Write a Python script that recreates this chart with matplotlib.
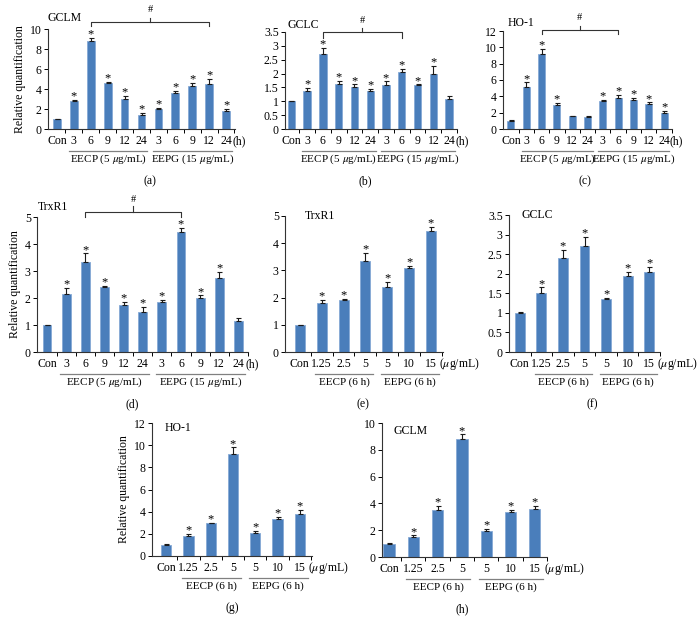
import numpy as np
import matplotlib
matplotlib.use('Agg')
import matplotlib.pyplot as plt
from matplotlib import transforms

plt.rcParams['font.family'] = ['Liberation Serif', 'DejaVu Serif']
plt.rcParams['font.size'] = 8.5
plt.rcParams['mathtext.fontset'] = 'stix'

# categories
time_labels = ['Con', '3', '6', '9', '12', '24', '3', '6', '9', '12', '24']
dose_labels = ['Con', '1.25', '2.5', '5', '5', '10', '15']

# (a) GCLM, time course
gclm_t = [1.0, 2.8, 8.8, 4.6, 3.0, 1.4, 2.0, 3.6, 4.3, 4.5, 1.8]
gclm_t_err = [0.03, 0.08, 0.35, 0.1, 0.3, 0.2, 0.12, 0.2, 0.35, 0.5, 0.2]
gclm_t_star = [0, 1, 1, 1, 1, 1, 1, 1, 1, 1, 1]

# (b) GCLC, time course
gclc_t = [1.0, 1.37, 2.72, 1.62, 1.52, 1.37, 1.57, 2.05, 1.58, 1.98, 1.08]
gclc_t_err = [0.01, 0.12, 0.22, 0.13, 0.09, 0.08, 0.15, 0.13, 0.03, 0.3, 0.1]
gclc_t_star = [0, 1, 1, 1, 1, 1, 1, 1, 1, 1, 0]

# (c) HO-1, time course
ho1_t = [1.0, 5.1, 9.2, 3.0, 1.6, 1.5, 3.4, 3.8, 3.6, 3.05, 2.0]
ho1_t_err = [0.05, 0.6, 0.6, 0.2, 0.05, 0.15, 0.2, 0.35, 0.25, 0.2, 0.2]
ho1_t_star = [0, 1, 1, 1, 0, 0, 1, 1, 1, 1, 1]

# (d) TrxR1, time course
trx_t = [1.0, 2.15, 3.35, 2.4, 1.75, 1.48, 1.85, 4.45, 2.0, 2.75, 1.15]
trx_t_err = [0.01, 0.22, 0.3, 0.05, 0.1, 0.2, 0.07, 0.15, 0.1, 0.22, 0.1]
trx_t_star = [0, 1, 1, 1, 1, 1, 1, 1, 1, 1, 0]

# (e) TrxR1, dose
trx_d = [1.0, 1.8, 1.9, 3.35, 2.4, 3.07, 4.45]
trx_d_err = [0.01, 0.12, 0.05, 0.3, 0.18, 0.1, 0.15]

# (f) GCLC, dose
gclc_d = [1.0, 1.5, 2.4, 2.72, 1.35, 1.93, 2.05]
gclc_d_err = [0.01, 0.15, 0.2, 0.22, 0.03, 0.12, 0.13]

# (g) HO-1, dose
ho1_d = [1.0, 1.8, 2.95, 9.2, 2.1, 3.35, 3.8]
ho1_d_err = [0.05, 0.2, 0.05, 0.6, 0.15, 0.2, 0.35]

# (h) GCLM, dose
gclm_d = [1.0, 1.5, 3.5, 8.8, 1.95, 3.35, 3.55]
gclm_d_err = [0.02, 0.12, 0.3, 0.35, 0.15, 0.18, 0.25]

dose_star = [0, 1, 1, 1, 1, 1, 1]

W, H = 700, 619
BAR = '#4a7ebb'
EDGE = '#86a9d6'

fig = plt.figure(figsize=(W / 100, H / 100), dpi=100)


def panel(box, labels, vals, errs, stars, ymax, ystep, gene, gene_xy, letter, letter_x,
          groups, unit, lpad=0.5, rpad=0.5, ylabel=False, bracket=None):
    left, right, top, bottom = box
    ax = fig.add_axes([left / W, 1 - bottom / H, (right - left) / W, (bottom - top) / H])
    n = len(vals)
    x = np.arange(n)
    ax.bar(x, vals, width=0.46, color=BAR, edgecolor=EDGE, linewidth=0.6, zorder=2)
    ax.errorbar(x, vals, yerr=[np.zeros(n), errs], fmt='none', ecolor='#1a1a1a',
                elinewidth=0.8, capsize=1.8, capthick=0.8, zorder=3)
    for i in range(n):
        if stars[i]:
            ax.annotate('*', xy=(i, vals[i] + errs[i]), xytext=(0, 0.3),
                        textcoords='offset points', ha='center', va='baseline',
                        fontsize=9)
    ax.set_xlim(-lpad, n - 1 + rpad)
    ax.set_ylim(0, ymax)
    yt = np.arange(0, ymax + ystep / 2, ystep)
    ax.set_yticks(yt)
    ax.set_yticklabels(['{:g}'.format(v) for v in yt])
    ax.set_xticks(x)
    ax.set_xticklabels(labels)
    ax.set_xticks(np.arange(n) + 0.5, minor=True)
    ax.tick_params(axis='x', which='major', length=0, pad=4)
    ax.tick_params(axis='x', which='minor', length=3, width=0.7, direction='out')
    ax.tick_params(axis='y', length=3, width=0.7, direction='out', pad=1.5)
    for s in ['top', 'right']:
        ax.spines[s].set_visible(False)
    for s in ['left', 'bottom']:
        ax.spines[s].set_linewidth(0.8)
        ax.spines[s].set_color('#333333')

    trans = transforms.blended_transform_factory(ax.transData, ax.transAxes)
    ax.annotate(unit, xy=(n - 1 + 0.38, 0), xycoords=trans, xytext=(0, -8.8),
                textcoords='offset points', ha='left', va='center')
    shift = transforms.ScaledTranslation(0, -16 / 72, fig.dpi_scale_trans)
    for (i0, i1, name) in groups:
        x0, x1 = i0 - 0.3, i1 + 0.35
        ln = plt.Line2D([x0, x1], [0, 0], color='#808080', lw=0.9, transform=trans + shift)
        ln.set_clip_on(False)
        ax.add_line(ln)
        ax.annotate(name, xy=((x0 + x1) / 2, 0), xycoords=trans, xytext=(0, -22),
                    textcoords='offset points', ha='center', va='center', fontsize=8)
    fig.text(letter_x / W, 1 - (bottom + 52) / H, letter, ha='center', va='center')
    fig.text(gene_xy[0] / W, 1 - gene_xy[1] / H, gene, ha='left', va='center')
    if ylabel:
        ax.set_ylabel('Relative quantification', labelpad=3)
    if bracket is not None:
        i0, i1, yl, ye, yh = bracket
        ax.plot([i0, i0, i1, i1], [ye, yl, yl, ye], color='#333333', lw=0.8,
                transform=trans, clip_on=False)
        mid = (i0 + i1) / 2
        ax.plot([mid, mid], [yl, yl + 0.04], color='#333333', lw=0.8,
                transform=trans, clip_on=False)
        ax.text(mid, yh, '#', transform=trans, ha='center', va='center', fontsize=7.5)
    return ax


grp_t1 = [(1, 5, r'EECP (5 $\mu$g/mL)'), (6, 10, r'EEPG (15 $\mu$g/mL)')]
grp_d = [(1, 3, 'EECP (6 h)'), (4, 6, 'EEPG (6 h)')]
unit_d = r'($\mu$g/mL)'

panel((48, 235, 29, 129), time_labels, gclm_t, gclm_t_err, gclm_t_star, 10, 2,
      'GCLM', (48, 18), '(a)', 150, grp_t1, '(h)', 0.53, 0.53, ylabel=True,
      bracket=(2, 9, 1.07, 1.03, 1.19))
panel((285, 457, 32, 129), time_labels, gclc_t, gclc_t_err, gclc_t_star, 3.5, 0.5,
      'GCLC', (288, 25), '(b)', 365, grp_t1, '(h)', 0.4, 0.5,
      bracket=(2, 7, 1.0, 0.94, 1.12))
panel((503, 672, 31, 129), time_labels, ho1_t, ho1_t_err, ho1_t_star, 12, 2,
      'HO-1', (508, 23), '(c)', 585, grp_t1, '(h)', 0.52, 0.52,
      bracket=(2, 7, 1.01, 0.97, 1.14))
panel((37, 248, 217, 352), time_labels, trx_t, trx_t_err, trx_t_star, 5, 1,
      'TrxR1', (38, 207), '(d)', 132, grp_t1, '(h)', 0.52, 0.42, ylabel=True,
      bracket=(2, 7, 1.04, 1.0, 1.13))
panel((285, 443, 216, 352), dose_labels, trx_d, trx_d_err, dose_star, 5, 1,
      'TrxR1', (305, 216), '(e)', 363, grp_d, unit_d, 0.68, 0.55)
panel((509, 660, 215, 352), dose_labels, gclc_d, gclc_d_err, dose_star, 3.5, 0.5,
      'GCLC', (522, 215), '(f)', 592, grp_d, unit_d, 0.5, 0.46)
panel((152, 312, 423, 556), dose_labels, ho1_d, ho1_d_err, dose_star, 12, 2,
      'HO-1', (165, 428), '(g)', 232, grp_d, unit_d, 0.64, 0.55, ylabel=True)
panel((382, 547, 423, 557), dose_labels, gclm_d, gclm_d_err, dose_star, 10, 2,
      'GCLM', (393, 431), '(h)', 462, grp_d, unit_d, 0.29, 0.5)

fig.savefig('out.png', dpi=100)
